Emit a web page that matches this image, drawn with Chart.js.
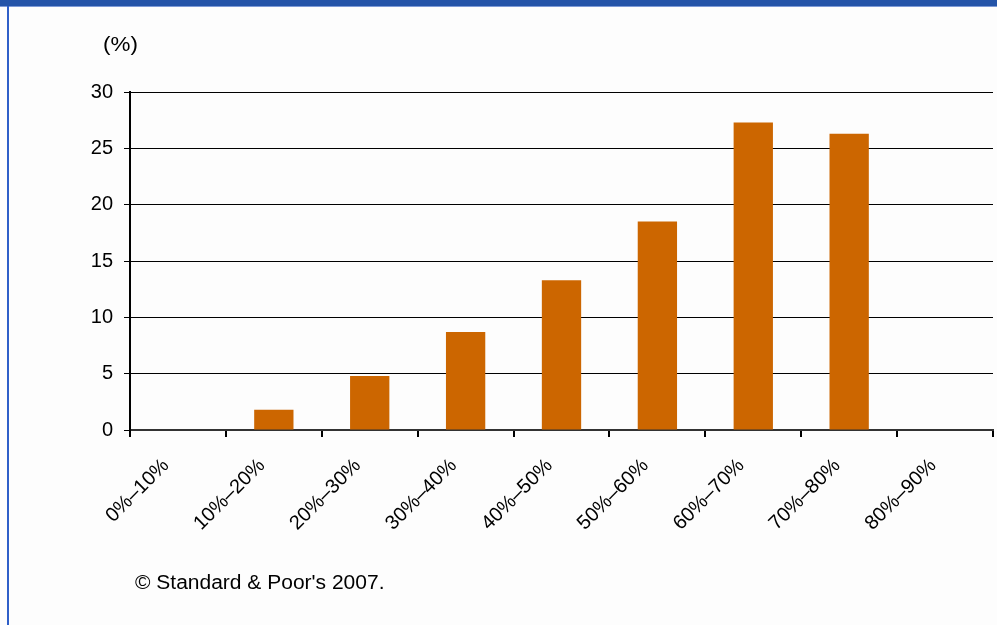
<!DOCTYPE html>
<html>
<head>
<meta charset="utf-8">
<script src="https://cdn.jsdelivr.net/npm/chart.js@4"></script>
<style>
    body { margin: 0; background: #fff; }
    #wrap { position: relative; width: 997px; height: 625px; overflow: hidden; background: #fdfdfd; }
    #topBar { position: absolute; left: 0; top: 0; width: 997px; height: 6px; background: #2454a8; border-bottom: 1px solid #7d9ad6; }
    #leftLine { position: absolute; left: 7px; top: 6px; width: 2px; height: 619px; background: #2f5fc8; }
    canvas { position: absolute; left: 0; top: 0; }
    .txt { position: absolute; font-family: "Liberation Sans", Arial, sans-serif; font-size: 20px; color: #000; white-space: nowrap; transform-origin: left top; }
</style>
</head>
<body>
<div id="wrap">
    <div id="topBar"></div>
    <div id="leftLine"></div>
    <canvas id="chart" width="997" height="625"></canvas>
    <div class="txt" id="unit" style="left:103px; top:33px; transform: scaleX(1.12);">(%)</div>
    <div class="txt" id="source" style="left:135px; top:571px; transform: scaleX(1.05);">© Standard &amp; Poor's 2007.</div>
</div>
<script>
// categories and values
const categories = ["0%–10%", "10%–20%", "20%–30%", "30%–40%", "40%–50%", "50%–60%", "60%–70%", "70%–80%", "80%–90%"];
const shares = [0, 1.8, 4.8, 8.7, 13.3, 18.5, 27.3, 26.3, 0];
const yTicks = [0, 5, 10, 15, 20, 25, 30];

const font = { family: '"Liberation Sans", Arial, sans-serif', size: 20 };

const ctx = document.getElementById('chart').getContext('2d');
new Chart(ctx, {
    type: 'bar',
    data: {
        labels: categories,
        datasets: [{
            data: shares,
            backgroundColor: '#cc6600',
            borderWidth: 0,
            categoryPercentage: 1,
            barPercentage: 0.41
        }]
    },
    options: {
        responsive: false,
        animation: false,
        layout: {
            padding: { left: 0, top: 92, right: 4, bottom: 0 }
        },
        scales: {
            x: {
                grid: {
                    offset: true,
                    drawOnChartArea: false,
                    color: '#000',
                    tickLength: 7,
                    lineWidth: 2
                },
                border: { color: '#333', width: 2 },
                ticks: {
                    color: '#000',
                    font: font,
                    maxRotation: 45,
                    minRotation: 45,
                    padding: 17,
                    labelOffset: -12
                },
                afterFit: function(scale) {
                    scale.height = 195; // x axis bottom at y=430
                }
            },
            y: {
                min: 0,
                max: 30,
                afterBuildTicks: function(scale) {
                    scale.ticks = yTicks.map(v => ({ value: v }));
                },
                grid: {
                    color: '#000',
                    lineWidth: 1,
                    tickLength: 6
                },
                border: { color: '#000', width: 2 },
                ticks: {
                    color: '#000',
                    font: font,
                    padding: 11
                },
                afterFit: function(scale) {
                    scale.width = 130;
                }
            }
        },
        plugins: {
            legend: { display: false },
            tooltip: { enabled: false }
        }
    }
});
</script>
</body>
</html>
